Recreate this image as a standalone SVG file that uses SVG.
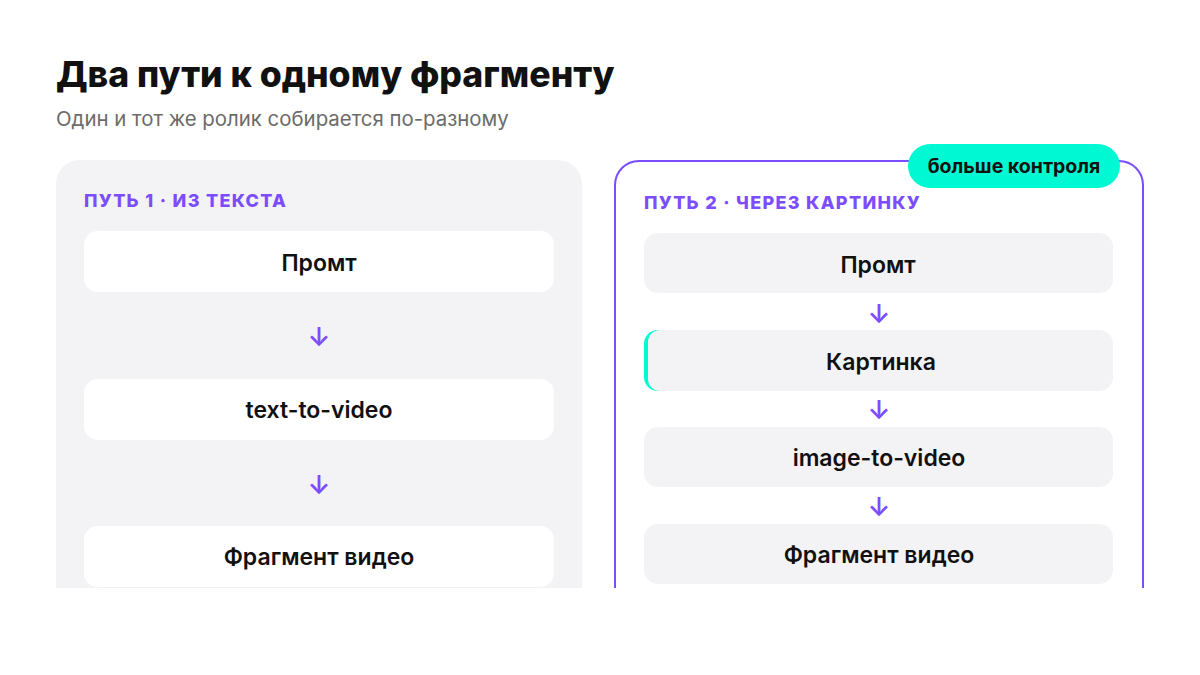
<svg xmlns="http://www.w3.org/2000/svg" width="1200" height="675" viewBox="0 0 1200 675">
<style>
.title{font-family:Inter,"Noto Sans",sans-serif;font-weight:800;font-size:35.6px;fill:#111;}
.sub{font-family:Inter,"Noto Sans",sans-serif;font-weight:400;font-size:20.4px;fill:#6b6b6b;}
.lbl{font-family:Inter,"Noto Sans",sans-serif;font-weight:800;font-size:18px;fill:#7c4dff;letter-spacing:1.3px;}
.nt{font-family:Inter,"Noto Sans",sans-serif;font-weight:600;font-size:23px;fill:#111;text-anchor:middle;}
.arr{font-family:Inter,"DejaVu Sans",sans-serif;font-weight:600;font-size:26px;fill:#7c4dff;text-anchor:middle;}
.badge{font-family:Inter,"Noto Sans",sans-serif;font-weight:700;font-size:19.5px;fill:#111;text-anchor:middle;}
.wbox{fill:#ffffff;}
.gbox{fill:#f3f3f5;}
</style>
<defs>
<clipPath id="cut"><rect x="0" y="0" width="1200" height="588"/></clipPath>
<clipPath id="kclip"><rect x="644" y="330" width="469" height="61" rx="14"/></clipPath>
</defs>
<rect width="1200" height="675" fill="#ffffff"/>
<g id="header">
<text class="title" x="56" y="87">Два пути к одному фрагменту</text>
<text class="sub" x="56" y="126">Один и тот же ролик собирается по-разному</text>
</g>
<g clip-path="url(#cut)">
<g id="panel1">
<rect x="56" y="160" width="526" height="460" rx="24" fill="#f3f3f5"/>
<text class="lbl" x="84" y="207">ПУТЬ 1 · ИЗ ТЕКСТА</text>
</g>
<g id="p1-prompt"><rect class="wbox" x="84" y="231" width="470" height="61" rx="14"/><text class="nt" x="319" y="271">Промт</text></g>
<g id="p1-t2v"><rect class="wbox" x="84" y="379" width="470" height="61" rx="14"/><text class="nt" x="319" y="418">text-to-video</text></g>
<g id="p1-frag"><rect class="wbox" x="84" y="526" width="470" height="61" rx="14"/><text class="nt" x="319" y="565">Фрагмент видео</text></g>
<g id="panel2">
<rect x="615" y="161" width="528" height="460" rx="24" fill="#ffffff" stroke="#7c4dff" stroke-width="2"/>
<text class="lbl" x="644" y="209">ПУТЬ 2 · ЧЕРЕЗ КАРТИНКУ</text>
</g>
<g id="p2-prompt"><rect class="gbox" x="644" y="233" width="469" height="60" rx="14"/><text class="nt" x="878" y="273">Промт</text></g>
<g id="p2-image">
<g clip-path="url(#kclip)"><rect x="644" y="330" width="30" height="61" fill="#00f9d2"/><rect class="gbox" x="648" y="330" width="480" height="61" rx="12"/></g>
<text class="nt" x="881" y="370">Картинка</text></g>
<g id="p2-i2v"><rect class="gbox" x="644" y="427" width="469" height="60" rx="14"/><text class="nt" x="879" y="466">image-to-video</text></g>
<g id="p2-frag"><rect class="gbox" x="644" y="524" width="469" height="60" rx="14"/><text class="nt" x="879" y="563">Фрагмент видео</text></g>
</g>
<g id="connectors">
<text class="arr" x="319" y="346">↓</text>
<text class="arr" x="319" y="494">↓</text>
<text class="arr" x="879" y="323">↓</text>
<text class="arr" x="879" y="419">↓</text>
<text class="arr" x="879" y="516">↓</text>
</g>
<g id="badge">
<rect x="908" y="144" width="212" height="44" rx="22" fill="#00f9d2"/>
<text class="badge" x="1014" y="173">больше контроля</text>
</g>
</svg>
